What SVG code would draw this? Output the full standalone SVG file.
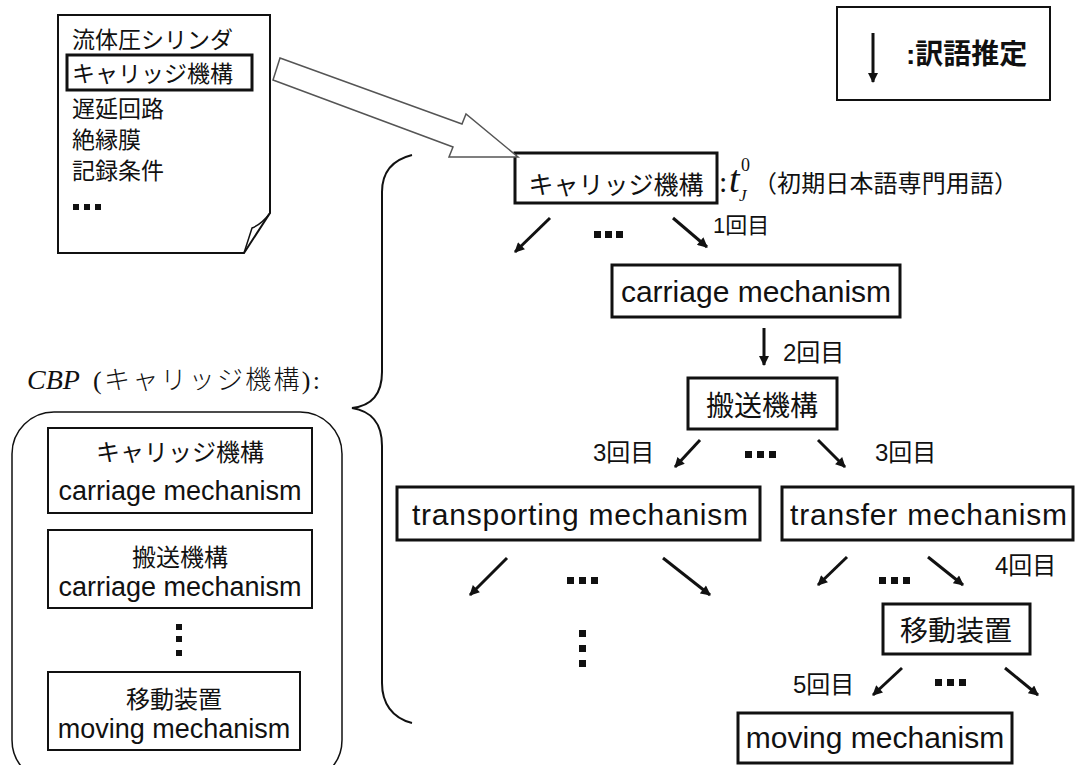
<svg xmlns="http://www.w3.org/2000/svg" width="1076" height="765" viewBox="0 0 1076 765">
<defs>
<marker id="ah" viewBox="0 0 10 10" refX="9" refY="5" markerWidth="11" markerHeight="10" markerUnits="userSpaceOnUse" orient="auto">
<path d="M0,0 L10,5 L0,10 z" fill="#111"/>
</marker>
</defs>
<style>
.jp{font-family:"Liberation Sans","Noto Sans CJK JP",sans-serif;fill:#111}
.en{font-family:"Liberation Sans",Arial,sans-serif;fill:#111}
.box{fill:#fff;stroke:#111;stroke-width:3}
.thin{fill:#fff;stroke:#111;stroke-width:2}
.arr{stroke:#111;stroke-width:3;fill:none;marker-end:url(#ah)}
.dot{fill:#111}
</style>
<rect width="1076" height="765" fill="#fff"/>

<g id="document">
<path d="M58,15 H270 V213 L244,253 H58 Z" fill="#fff" stroke="#111" stroke-width="2"/>
<path d="M244,253 L252,228 Q262,224 270,213" fill="none" stroke="#111" stroke-width="1.5"/>
<text class="jp" x="72" y="48" font-size="23">流体圧シリンダ</text>
<rect x="67" y="55" width="185" height="35" fill="none" stroke="#111" stroke-width="3"/>
<text class="jp" x="72" y="82" font-size="23">キャリッジ機構</text>
<text class="jp" x="72" y="117" font-size="23">遅延回路</text>
<text class="jp" x="72" y="148" font-size="23">絶縁膜</text>
<text class="jp" x="72" y="179" font-size="23">記録条件</text>
<rect x="73" y="204" width="6" height="6" class="dot"/>
<rect x="84" y="204" width="6" height="6" class="dot"/>
<rect x="95" y="204" width="6" height="6" class="dot"/>
</g>

<g id="legend">
<rect x="837" y="7" width="213" height="93" class="thin"/>
<line x1="873" y1="33" x2="873" y2="82" class="arr"/>
<text class="jp" x="906" y="64" font-size="28" font-weight="bold">:訳語推定</text>
</g>

<g id="n0">
<rect x="515" y="153" width="202" height="50" class="box"/>
<text class="jp" x="616" y="194" font-size="25" text-anchor="middle">キャリッジ機構</text>
<text x="719" y="192" font-size="30" font-family="Liberation Serif,serif" fill="#111">:</text>
<text x="729" y="192" font-size="38" font-family="Liberation Serif,serif" font-style="italic" fill="#111">t</text>
<text x="741" y="171" font-size="18" font-family="Liberation Serif,serif" fill="#111">0</text>
<text x="739" y="201" font-size="17" font-family="Liberation Serif,serif" font-style="italic" fill="#111">J</text>
<text class="jp" x="753" y="192" font-size="24" textLength="265" lengthAdjust="spacing">（初期日本語専門用語）</text>
</g>

<g id="n1">
<rect x="612" y="265" width="288" height="52" class="box"/>
<text class="en" x="756" y="302" font-size="30" text-anchor="middle">carriage mechanism</text>
</g>

<g id="n2">
<rect x="688" y="378" width="149" height="51" class="box"/>
<text class="jp" x="762" y="416" font-size="28" text-anchor="middle">搬送機構</text>
</g>

<g id="n3a">
<rect x="397" y="487" width="363" height="53" class="box"/>
<text class="en" x="412" y="525" font-size="30" textLength="336" lengthAdjust="spacing">transporting  mechanism</text>
</g>

<g id="n3b">
<rect x="782" y="487" width="291" height="53" class="box"/>
<text class="en" x="790" y="525" font-size="30" textLength="277" lengthAdjust="spacing">transfer  mechanism</text>
</g>

<g id="n4">
<rect x="883" y="604" width="147" height="50" class="box"/>
<text class="jp" x="956" y="641" font-size="28" text-anchor="middle">移動装置</text>
</g>

<g id="n5">
<rect x="738" y="713" width="274" height="50" class="box"/>
<text class="en" x="875" y="748" font-size="30" text-anchor="middle">moving mechanism</text>
</g>

<g id="connectors">
<polygon points="280,58 462,124 466,114 518,157 449,157 453,147 273,80" fill="#fff" stroke="#555" stroke-width="1.5"/>
<line x1="550" y1="218" x2="515" y2="252" class="arr"/>
<line x1="673" y1="218" x2="707" y2="247" class="arr"/>
<line x1="764" y1="328" x2="764" y2="365" class="arr"/>
<line x1="700" y1="440" x2="675" y2="467" class="arr"/>
<line x1="818" y1="440" x2="845" y2="467" class="arr"/>
<line x1="507" y1="558" x2="470" y2="595" class="arr"/>
<line x1="663" y1="558" x2="710" y2="595" class="arr"/>
<line x1="847" y1="557" x2="818" y2="585" class="arr"/>
<line x1="928" y1="557" x2="963" y2="585" class="arr"/>
<line x1="902" y1="668" x2="873" y2="695" class="arr"/>
<line x1="1005" y1="668" x2="1038" y2="695" class="arr"/>
<path d="M412,155 C392,160 382,172 382,192 L382,372 C382,396 370,406 352,408 C370,411 382,421 382,446 L382,683 C382,703 392,718 412,723" fill="none" stroke="#111" stroke-width="2"/>
</g>

<g id="labels">
<text class="jp" x="713" y="233" font-size="22">1回目</text>
<text class="jp" x="783" y="361" font-size="24">2回目</text>
<text class="jp" x="593" y="461" font-size="24">3回目</text>
<text class="jp" x="875" y="461" font-size="24">3回目</text>
<text class="jp" x="995" y="574" font-size="24">4回目</text>
<text class="jp" x="793" y="693" font-size="24">5回目</text>
<g class="dot">
<rect x="594" y="231" width="7" height="7"/><rect x="605" y="231" width="7" height="7"/><rect x="616" y="231" width="7" height="7"/>
<rect x="745" y="451" width="7" height="7"/><rect x="757" y="451" width="7" height="7"/><rect x="769" y="451" width="7" height="7"/>
<rect x="567" y="577" width="7" height="7"/><rect x="579" y="577" width="7" height="7"/><rect x="591" y="577" width="7" height="7"/>
<rect x="579" y="630" width="7" height="7"/><rect x="579" y="645" width="7" height="7"/><rect x="579" y="660" width="7" height="7"/>
<rect x="879" y="577" width="7" height="7"/><rect x="891" y="577" width="7" height="7"/><rect x="903" y="577" width="7" height="7"/>
<rect x="935" y="679" width="7" height="7"/><rect x="947" y="679" width="7" height="7"/><rect x="959" y="679" width="7" height="7"/>
</g>
</g>

<g id="cbp">
<text x="27" y="389" font-size="28" fill="#111" font-family="Liberation Serif,'Noto Sans CJK JP',serif"><tspan font-style="italic">CBP</tspan><tspan x="93" textLength="227" lengthAdjust="spacing" font-size="26" font-weight="300">(キャリッジ機構):</tspan></text>
<rect x="12" y="412" width="330" height="370" rx="42" ry="42" fill="none" stroke="#111" stroke-width="1.5"/>
<rect x="48" y="428" width="264" height="85" class="thin"/>
<text class="jp" x="180" y="461" font-size="24" text-anchor="middle">キャリッジ機構</text>
<text class="en" x="180" y="500" font-size="27" text-anchor="middle">carriage mechanism</text>
<rect x="48" y="530" width="264" height="78" class="thin"/>
<text class="jp" x="180" y="566" font-size="24" text-anchor="middle">搬送機構</text>
<text class="en" x="180" y="596" font-size="27" text-anchor="middle">carriage mechanism</text>
<rect x="176" y="624" width="6" height="6" class="dot"/>
<rect x="176" y="636" width="6" height="6" class="dot"/>
<rect x="176" y="650" width="6" height="6" class="dot"/>
<rect x="48" y="672" width="252" height="78" class="thin"/>
<text class="jp" x="174" y="708" font-size="24" text-anchor="middle">移動装置</text>
<text class="en" x="174" y="738" font-size="27" text-anchor="middle">moving mechanism</text>
</g>
</svg>
